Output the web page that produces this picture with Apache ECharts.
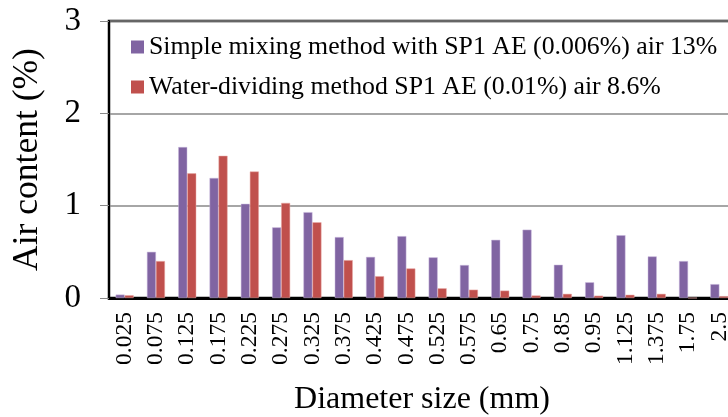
<!DOCTYPE html>
<html><head><meta charset="utf-8">
<script src="https://cdn.jsdelivr.net/npm/echarts@6/dist/echarts.min.js"></script>
<style>html,body{margin:0;padding:0;background:#fff}#c{width:728px;height:417px}</style>
</head><body><div id="c"></div>
<script>
const categories = ['0.025','0.075','0.125','0.175','0.225','0.275','0.325','0.375','0.425','0.475','0.525','0.575','0.65','0.75','0.85','0.95','1.125','1.375','1.75','2.5'];
const simpleMixing = [0.037,0.50,1.635,1.30,1.02,0.765,0.93,0.66,0.445,0.67,0.44,0.357,0.63,0.74,0.36,0.17,0.68,0.45,0.40,0.15];
const waterDividing = [0.03,0.40,1.35,1.54,1.37,1.03,0.82,0.41,0.236,0.32,0.105,0.09,0.08,0.027,0.045,0.025,0.035,0.045,0.0,0.02];
const seriesNames = ['Simple mixing method with SP1 AE (0.006%) air 13%','Water-dividing method SP1 AE (0.01%) air 8.6%'];
const F = '"Liberation Serif","Times New Roman",serif';
const chart = echarts.init(document.getElementById('c'), null, {renderer:'canvas'});
chart.setOption({
  animation:false,
  grid:{left:109,top:21,width:626,bottom:119,outerBoundsMode:'none',containLabel:false,show:true,borderColor:'#000',borderWidth:2.5,backgroundColor:'transparent'},
  legend:{show:true,left:131,top:34,padding:0,orient:'vertical',itemGap:14,itemWidth:13,itemHeight:13,icon:'rect',
    itemStyle:{borderWidth:0},
    textStyle:{fontFamily:F,fontSize:25.8,color:'#000'},data:seriesNames},
  xAxis:{type:'category',data:categories,
    axisLine:{lineStyle:{color:'#000',width:3}},axisTick:{show:false},
    axisLabel:{rotate:90,fontFamily:F,fontSize:23.5,color:'#000',margin:14,interval:0},
    name:'Diameter size (mm)',nameLocation:'middle',nameGap:86,
    nameTextStyle:{fontFamily:F,fontSize:32,color:'#000'}},
  yAxis:{type:'value',min:0,max:3,interval:1,
    axisLine:{show:true,lineStyle:{color:'#000',width:2}},
    axisTick:{show:true,length:9,lineStyle:{color:'#888'}},
    splitLine:{lineStyle:{color:'#888',width:1.5}},
    axisLabel:{fontFamily:F,fontSize:33,color:'#000',margin:28},
    name:'Air content (%)',nameLocation:'middle',nameGap:63,nameRotate:90,
    nameTextStyle:{fontFamily:F,fontSize:35.5,color:'#000'}},
  series:[
    {name:seriesNames[0],type:'bar',data:simpleMixing,barWidth:9,barGap:'0%',itemStyle:{color:'#8064A2',borderColor:'#C8B8DC',borderWidth:0.5}},
    {name:seriesNames[1],type:'bar',data:waterDividing,barWidth:9,barGap:'0%',itemStyle:{color:'#C0504D',borderColor:'#E8A8A6',borderWidth:0.5}}
  ]
});
</script></body></html>
